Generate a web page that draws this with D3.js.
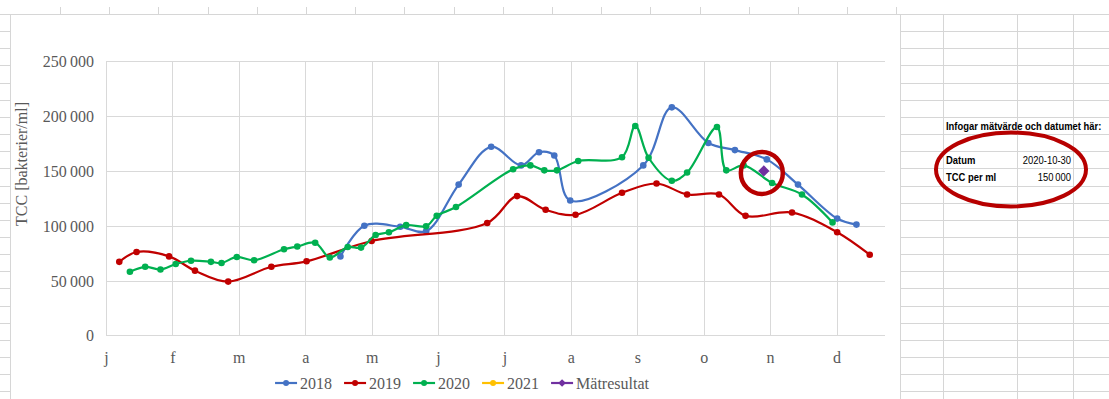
<!DOCTYPE html>
<html>
<head>
<meta charset="utf-8">
<script src="https://cdn.jsdelivr.net/npm/d3@7"></script>
<style>
  html, body { margin: 0; padding: 0; background: #fff; }
  svg { display: block; }
  .tick-label, .month-label, .legend-label, .y-title { font-family: "Liberation Serif", "DejaVu Serif", serif; fill: #595959; }
  .cell { font-family: "Liberation Sans", Arial, sans-serif; fill: #000; font-size: 11.5px; }
</style>
</head>
<body>
<svg id="chart" width="1109" height="399"></svg>
<script>
// ── chart data (x = position in months, 0 = start of januari) ──
const monthLabels = ["j", "f", "m", "a", "m", "j", "j", "a", "s", "o", "n", "d"];
const yTickValues = [0, 50000, 100000, 150000, 200000, 250000];

const x2018 = [3.53, 3.89, 4.43, 4.82, 5.31, 5.80, 6.25, 6.52, 6.75, 6.99, 8.09, 8.52, 9.07, 9.47, 9.95, 10.42, 11.01, 11.30];
const v2018 = [72000, 100000, 99000, 95000, 137500, 172000, 155000, 167000, 164000, 123000, 155000, 208000, 175500, 169000, 160500, 137500, 106500, 101000];

const x2019 = [0.20, 0.46, 0.95, 1.34, 1.84, 2.49, 3.02, 4.00, 5.74, 6.19, 6.62, 7.07, 7.77, 8.29, 8.75, 9.23, 9.63, 10.33, 11.01, 11.50];
const v2019 = [67000, 76000, 72000, 59000, 49000, 62500, 67500, 86000, 102500, 127000, 114500, 110000, 130000, 138500, 128500, 128500, 109000, 112000, 94000, 73500];

const x2020 = [0.36, 0.59, 0.82, 1.05, 1.28, 1.58, 1.74, 1.97, 2.23, 2.68, 2.88, 3.15, 3.37, 3.64, 3.84, 4.06, 4.26, 4.52, 4.82, 4.98, 5.27, 6.13, 6.39, 6.60, 6.79, 7.11, 7.77, 7.97, 8.17, 8.52, 8.75, 9.20, 9.34, 9.60, 10.03, 10.48, 10.94];
const v2020 = [58000, 62500, 60000, 65000, 68000, 67000, 66000, 71500, 68500, 78500, 81000, 84500, 71000, 80500, 80000, 91500, 94000, 100500, 99500, 109000, 117000, 151500, 155000, 150500, 150500, 159000, 162500, 191000, 162000, 141000, 148500, 190000, 150500, 155000, 139000, 128500, 103000];

const x2021 = [];
const v2021 = [];

// inserted measurement (from the cells on the right)
const measureDate = "2020-10-30";
const measureValue = 150000;

const seriesNames = ["2018", "2019", "2020", "2021"];
const seriesColors = ["#4472C4", "#C00000", "#00B050", "#FFC000"];
const measureName = "Mätresultat";
const measureColor = "#7030A0";

// ─────────────────────────────────────────────
const svg = d3.select("#chart");
const W = 1109, H = 399;

const sv = d3.formatLocale({ decimal: ",", thousands: "\u2009", grouping: [3], currency: ["", ""] });
const fmt = sv.format(",");

// spreadsheet grid behind the chart object
const rowH = 17.15, gridTop = 14;
const rows = d3.range(0, 23).map((i) => gridTop + i * rowH);
const sheetCols = [900.5, 943.5, 1017.5, 1073.5];
const sheet = svg.append("g").attr("stroke", "#d6d6d6").attr("stroke-width", 1);
sheet.selectAll("line.h").data(rows).join("line")
  .attr("x1", 900).attr("x2", W).attr("y1", (d) => Math.round(d) + 0.5).attr("y2", (d) => Math.round(d) + 0.5);
sheet.selectAll("line.v").data(sheetCols).join("line")
  .attr("x1", (d) => d).attr("x2", (d) => d).attr("y1", gridTop).attr("y2", H);
// row stubs on the left edge and column stubs on the top edge
sheet.selectAll("line.l").data(rows.slice(1)).join("line")
  .attr("x1", 0).attr("x2", 10).attr("y1", (d) => Math.round(d) + 0.5).attr("y2", (d) => Math.round(d) + 0.5);
sheet.selectAll("line.t").data(d3.range(60, 900, 49.2)).join("line")
  .attr("x1", (d) => Math.round(d) + 0.5).attr("x2", (d) => Math.round(d) + 0.5).attr("y1", 7).attr("y2", gridTop);
sheet.append("line").attr("x1", 0).attr("x2", W).attr("y1", gridTop + 0.5).attr("y2", gridTop + 0.5);
sheet.append("line").attr("x1", 10.5).attr("x2", 10.5).attr("y1", gridTop).attr("y2", H);

// chart object background
svg.append("rect").attr("x", 11).attr("y", 15).attr("width", 889).attr("height", H - 15).attr("fill", "#fff");

// cells on the right (narrow like Calibri)
const cells = svg.append("g").attr("class", "cell");
function cell(tx, ty, str, bold, anchor) {
  cells.append("text").attr("transform", `translate(${tx},${ty}) scale(0.82,1)`)
    .attr("font-weight", bold ? "bold" : null).attr("text-anchor", anchor || "start").text(str);
}
cell(946, 129.5, "Infogar mätvärde och datumet här:", true);
cell(946, 163.5, "Datum", true);
cell(1071, 163.5, measureDate, false, "end");
cell(946, 180.5, "TCC per ml", true);
cell(1071, 180.5, fmt(measureValue), false, "end");
svg.append("ellipse").attr("cx", 1011).attr("cy", 169.5).attr("rx", 75).attr("ry", 37)
  .attr("fill", "none").attr("stroke", "#B70000").attr("stroke-width", 4);

// ── plot ──
const x = d3.scaleLinear().domain([0, 11.73]).range([106, 885]);
const y = d3.scaleLinear().domain([0, 250000]).range([335.3, 61.3]);

const grid = svg.append("g").attr("stroke", "#d9d9d9").attr("stroke-width", 1);
grid.selectAll("line.hy").data(yTickValues).join("line")
  .attr("x1", x(0)).attr("x2", x(11.73))
  .attr("y1", (d) => Math.round(y(d)) + 0.5).attr("y2", (d) => Math.round(y(d)) + 0.5);
grid.selectAll("line.vx").data(monthLabels.map((m, i) => i)).join("line")
  .attr("x1", (d) => Math.round(x(d)) + 0.5).attr("x2", (d) => Math.round(x(d)) + 0.5)
  .attr("y1", y(250000)).attr("y2", y(0));

// y axis labels
const yAxis = svg.append("g").attr("transform", "translate(94,0)")
  .call(d3.axisLeft(y).tickValues(yTickValues).tickFormat(fmt).tickSize(0).tickPadding(0));
yAxis.select(".domain").remove();
yAxis.selectAll("text").attr("class", "tick-label").attr("font-size", 16).attr("dy", "0.35em");

// x axis labels
const xAxis = svg.append("g").attr("transform", `translate(0,${y(0)})`)
  .call(d3.axisBottom(x).tickValues(d3.range(12)).tickFormat((i) => monthLabels[i]).tickSize(0).tickPadding(16));
xAxis.select(".domain").remove();
xAxis.selectAll("text").attr("class", "month-label").attr("font-size", 16);

svg.append("text").attr("class", "y-title").attr("font-size", 16)
  .attr("transform", "translate(27,164) rotate(-90)").attr("text-anchor", "middle")
  .text("TCC [bakterier/ml]");

// series
const series = [
  { xs: x2018, vs: v2018 },
  { xs: x2019, vs: v2019 },
  { xs: x2020, vs: v2020 },
  { xs: x2021, vs: v2021 },
].map((s, i) => ({
  name: seriesNames[i],
  color: seriesColors[i],
  points: s.xs.map((xv, j) => ({ x: xv, v: s.vs[j] })),
}));

const line = d3.line().x((d) => x(d.x)).y((d) => y(d.v)).curve(d3.curveCatmullRom.alpha(0.5));

const gSeries = svg.append("g");
series.forEach((s) => {
  if (!s.points.length) return;
  const g = gSeries.append("g");
  g.append("path").datum(s.points).attr("d", line)
    .attr("fill", "none").attr("stroke", s.color).attr("stroke-width", 2.2);
  g.selectAll("circle").data(s.points).join("circle")
    .attr("cx", (d) => x(d.x)).attr("cy", (d) => y(d.v)).attr("r", 3.3).attr("fill", s.color);
});

// measurement point
function dateToMonths(str) {
  const [yy, mm, dd] = str.split("-").map(Number);
  const days = new Date(yy, mm, 0).getDate();
  return (mm - 1) + (dd - 1) / days;
}
const mx = x(dateToMonths(measureDate)) - 2, my = y(measureValue);
svg.append("path").attr("d", d3.symbol(d3.symbolSquare, 64)())
  .attr("transform", `translate(${mx},${my}) rotate(45)`).attr("fill", measureColor);
svg.append("circle").attr("cx", mx - 2).attr("cy", my + 2).attr("r", 21)
  .attr("fill", "none").attr("stroke", "#B70000").attr("stroke-width", 4.5);

// legend
const legendItems = series.map((s) => ({ name: s.name, color: s.color, diamond: false }))
  .concat([{ name: measureName, color: measureColor, diamond: true }]);
const legend = svg.append("g");
let lx = 0;
const itemsG = legend.selectAll("g").data(legendItems).join("g");
itemsG.append("text").attr("class", "legend-label").attr("font-size", 16).attr("x", 25).attr("dy", "0.35em")
  .text((d) => d.name);
itemsG.each(function (d) {
  const g = d3.select(this);
  const tw = g.select("text").node().getComputedTextLength();
  g.attr("transform", `translate(${lx},0)`);
  g.append("line").attr("x1", 0).attr("x2", 22).attr("stroke", d.color).attr("stroke-width", 2.2);
  if (d.diamond) {
    g.append("path").attr("d", d3.symbol(d3.symbolSquare, 30)())
      .attr("transform", "translate(11,0) rotate(45)").attr("fill", d.color);
  } else {
    g.append("circle").attr("cx", 11).attr("r", 3).attr("fill", d.color);
  }
  lx += 25 + tw + 12;
});
legend.attr("transform", `translate(${462 - (lx - 12) / 2},383)`);
</script>
</body>
</html>
